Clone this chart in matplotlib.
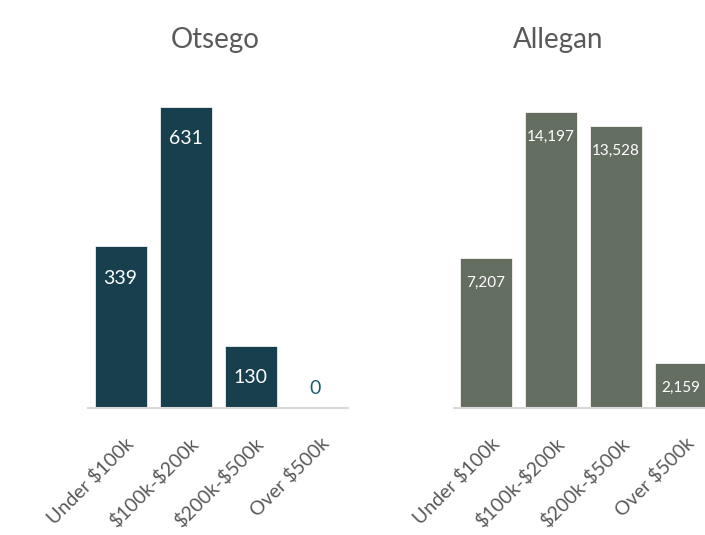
import matplotlib.pyplot as plt
import matplotlib.transforms as mtransforms

plt.rcParams['font.family'] = ['Lato', 'DejaVu Sans']
plt.rcParams['text.parse_math'] = False

categories = ['Under $100k', '$100k-$200k', '$200k-$500k', 'Over $500k']
otsego = [339, 631, 130, 0]
allegan = [7207, 14197, 13528, 2159]

fig = plt.figure(figsize=(7.05, 5.35), dpi=100)

W, H = 705, 535


def draw(ax, values, color, ytop, fs, offset_px):
    x = range(len(values))
    bars = ax.bar(x, values, width=0.8, color=color, edgecolor='white', linewidth=0.5)
    ax.set_xlim(-0.5, len(values) - 0.5)
    ax.set_ylim(0, ytop)
    for s in ['top', 'right', 'left']:
        ax.spines[s].set_visible(False)
    ax.spines['bottom'].set_color('#d9d9d9')
    ax.spines['bottom'].set_linewidth(1.5)
    ax.set_yticks([])
    ax.set_xticks(list(x))
    ax.set_xticklabels(categories, rotation=45, ha='right', va='top',
                       rotation_mode='anchor', fontsize=14, color='#595959')
    ax.tick_params(axis='x', length=0, pad=19)
    # nudge labels a little to the right
    shift = mtransforms.ScaledTranslation(4 / 100, 0, fig.dpi_scale_trans)
    for lbl in ax.get_xticklabels():
        lbl.set_transform(lbl.get_transform() + shift)
    for b, v in zip(bars, values):
        if v == 0:
            ax.annotate('0', (b.get_x() + b.get_width() / 2, 0),
                        xytext=(0, 19), textcoords='offset pixels',
                        ha='center', va='center', fontsize=fs, color='#1d5c6f')
        else:
            ax.annotate(f'{v:,}', (b.get_x() + b.get_width() / 2, v),
                        xytext=(0, -offset_px), textcoords='offset pixels',
                        ha='center', va='center', fontsize=fs, color='white')


bottom = (H - 408) / H
height = 348 / H
ax1 = fig.add_axes([88 / W, bottom, 260 / W, height])
draw(ax1, otsego, '#183f4e', 631 * 348 / 301, 14, 32)

ax2 = fig.add_axes([453.5 / W, bottom, 260 / W, height])
draw(ax2, allegan, '#646e60', 14197 * 348 / 296, 11, 25)

fig.text(215 / W, 1 - 40 / H, 'Otsego', ha='center', va='center', fontsize=20, color='#595959')
fig.text(558 / W, 1 - 40 / H, 'Allegan', ha='center', va='center', fontsize=20, color='#595959')

fig.savefig('out.png', dpi=100)
